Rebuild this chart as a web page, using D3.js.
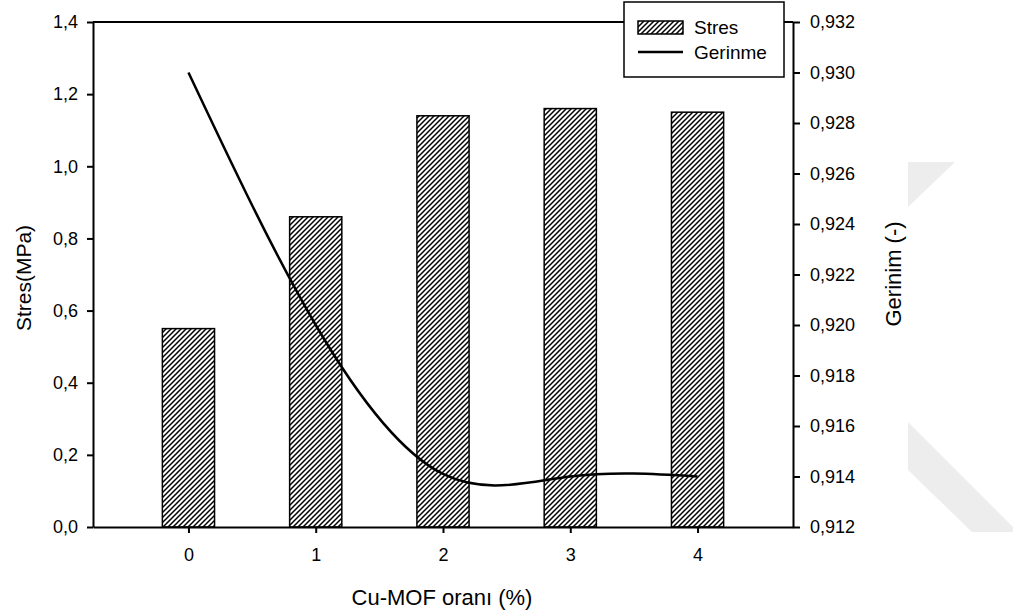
<!DOCTYPE html>
<html>
<head>
<meta charset="utf-8">
<script src="https://cdn.jsdelivr.net/npm/d3@7"></script>
<style>
    body { margin: 0; background: #fff; }
    svg { font-family: "Liberation Sans", Arial, sans-serif; }
</style>
</head>
<body>
<svg width="1013" height="616"></svg>
<script>
// Chart data
const categories = [0, 1, 2, 3, 4];
const stresValues = [0.55, 0.86, 1.14, 1.16, 1.15];
const gerinimValues = [0.930, 0.920, 0.9141, 0.9140, 0.9140];
const leftTicks = [0, 0.2, 0.4, 0.6, 0.8, 1.0, 1.2, 1.4];
const rightTicks = [0.912, 0.914, 0.916, 0.918, 0.920, 0.922, 0.924, 0.926, 0.928, 0.930, 0.932];

const svg = d3.select("svg");

// Turkish number format uses a comma as decimal separator
const locale = d3.formatLocale({ decimal: ",", thousands: ".", grouping: [3], currency: ["", ""] });

const plotLeft = 93, plotRight = 793, plotTop = 22, plotBottom = 527;

const x = d3.scaleLinear().domain([-0.75, 4.75]).range([plotLeft, plotRight]);
const yL = d3.scaleLinear().domain([0, 1.4]).range([plotBottom, plotTop]);
const yR = d3.scaleLinear().domain([0.912, 0.932]).range([plotBottom, plotTop]);
const barW = 0.41;

// Hatch pattern for the bars
const defs = svg.append("defs");
defs.append("pattern")
    .attr("id", "hatch")
    .attr("patternUnits", "userSpaceOnUse")
    .attr("width", 5)
    .attr("height", 5)
    .append("path")
    .attr("d", "M-1,1 l2,-2 M0,5 l5,-5 M4,6 l2,-2")
    .attr("stroke", "#000")
    .attr("stroke-width", 1.5);

// Watermark shapes in the background
svg.append("path")
    .attr("d", "M908,162 L955,162 L908,207 Z")
    .attr("fill", "#ededed");
svg.append("path")
    .attr("d", "M908,422 L1013,527 L1013,532 L972,532 L908,470 Z")
    .attr("fill", "#ededed");

// Bars
svg.selectAll(".bar")
    .data(categories)
    .enter().append("rect")
    .attr("class", "bar")
    .attr("x", d => x(d - barW / 2))
    .attr("width", d => x(barW) - x(0))
    .attr("y", (d, i) => yL(stresValues[i]))
    .attr("height", (d, i) => yL(0) - yL(stresValues[i]))
    .attr("fill", "url(#hatch)")
    .attr("stroke", "#000")
    .attr("stroke-width", 1.5);

// Strain curve
const line = d3.line()
    .x((d, i) => x(categories[i]))
    .y(d => yR(d))
    .curve(d3.curveNatural);

svg.append("path")
    .datum(gerinimValues)
    .attr("d", line)
    .attr("fill", "none")
    .attr("stroke", "#000")
    .attr("stroke-width", 2.5);

// Top frame line
svg.append("line")
    .attr("x1", plotLeft).attr("x2", plotRight)
    .attr("y1", plotTop).attr("y2", plotTop)
    .attr("stroke", "#000")
    .attr("stroke-width", 2);

// Axes
const gL = svg.append("g")
    .attr("transform", `translate(${plotLeft},0)`)
    .call(d3.axisLeft(yL).tickValues(leftTicks).tickFormat(locale.format(".1f")).tickSize(6).tickSizeOuter(0));

const gR = svg.append("g")
    .attr("transform", `translate(${plotRight},0)`)
    .call(d3.axisRight(yR).tickValues(rightTicks).tickFormat(locale.format(".3f")).tickSize(7).tickSizeOuter(0));

const gB = svg.append("g")
    .attr("transform", `translate(0,${plotBottom})`)
    .call(d3.axisBottom(x).tickValues(categories).tickFormat(d3.format("d")).tickSize(6).tickSizeOuter(0));

[gL, gR, gB].forEach(g => {
    g.select(".domain").attr("stroke-width", 2);
    g.selectAll(".tick line").attr("stroke-width", 2);
    g.selectAll(".tick text").attr("font-size", 18).attr("fill", "#000")
        .attr("font-family", "'Liberation Sans', Arial, sans-serif");
});
gL.selectAll(".tick text").attr("x", -15);
gR.selectAll(".tick text").attr("x", 17);
gB.selectAll(".tick text").attr("y", 21);

// Axis titles
svg.append("text")
    .attr("transform", "translate(31,278) rotate(-90)")
    .attr("text-anchor", "middle")
    .attr("font-size", 21)
    .text("Stres(MPa)");

svg.append("text")
    .attr("transform", "translate(901,274) rotate(-90)")
    .attr("text-anchor", "middle")
    .attr("font-size", 22)
    .text("Gerinim (-)");

svg.append("text")
    .attr("x", 442)
    .attr("y", 605)
    .attr("text-anchor", "middle")
    .attr("font-size", 22)
    .text("Cu-MOF oranı (%)");

// Legend
const legend = svg.append("g");
legend.append("rect")
    .attr("x", 624).attr("y", 2)
    .attr("width", 160).attr("height", 75)
    .attr("fill", "#fff")
    .attr("stroke", "#000")
    .attr("stroke-width", 1.5);

legend.append("rect")
    .attr("x", 638).attr("y", 21)
    .attr("width", 45).attr("height", 13)
    .attr("fill", "url(#hatch)")
    .attr("stroke", "#000")
    .attr("stroke-width", 1.5);

legend.append("line")
    .attr("x1", 638).attr("x2", 683)
    .attr("y1", 52).attr("y2", 52)
    .attr("stroke", "#000")
    .attr("stroke-width", 2.5);

legend.append("text")
    .attr("x", 694).attr("y", 34)
    .attr("font-size", 19)
    .text("Stres");

legend.append("text")
    .attr("x", 694).attr("y", 59)
    .attr("font-size", 19)
    .text("Gerinme");
</script>
</body>
</html>
